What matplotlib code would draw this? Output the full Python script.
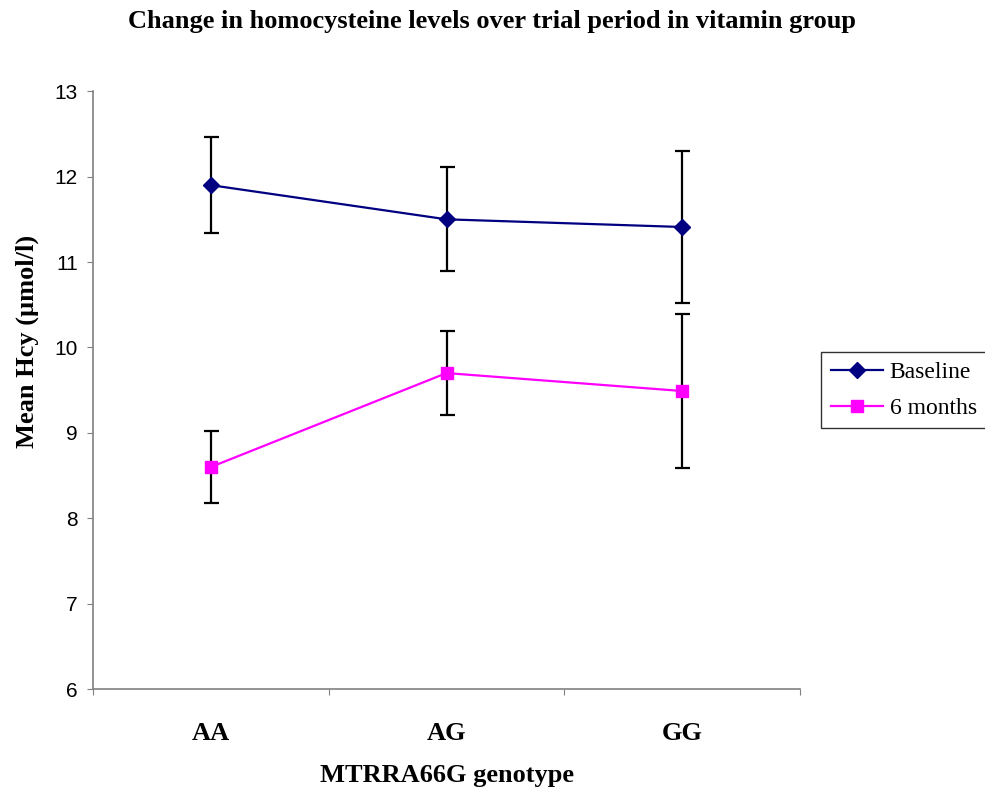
import matplotlib.pyplot as plt

genotypes = ['AA', 'AG', 'GG']
baseline = [11.9, 11.5, 11.41]
baseline_err = [0.56, 0.61, 0.89]
six_months = [8.6, 9.7, 9.49]
six_months_err = [0.42, 0.49, 0.9]

plt.rcParams['font.family'] = ['Liberation Serif', 'DejaVu Serif']

fig = plt.figure(figsize=(9.85, 7.93), dpi=100)
ax = fig.add_axes([0.0944, 0.131, 0.7178, 0.754])

x = [i + 0.5 for i in range(len(genotypes))]

ax.errorbar(x, baseline, yerr=baseline_err, fmt='none', ecolor='black',
            elinewidth=1.6, capsize=5.4, capthick=1.6, zorder=2)
ax.errorbar(x, six_months, yerr=six_months_err, fmt='none', ecolor='black',
            elinewidth=1.6, capsize=5.4, capthick=1.6, zorder=2)
ax.plot(x, baseline, color='#000080', marker='D', markersize=8, linewidth=1.6,
        label='Baseline', zorder=3)
ax.plot(x, six_months, color='#FF00FF', marker='s', markersize=8, linewidth=1.6,
        label='6 months', zorder=3)

ax.set_xlim(0, 3)
ax.set_ylim(6, 13)
ax.set_xticks([0, 1, 2, 3])
ax.set_xticklabels([])
ax.set_xticks(x, minor=True)
ax.set_xticklabels(genotypes, minor=True, fontsize=19, fontweight='bold')
ax.tick_params(axis='x', which='minor', length=0, pad=24)
ax.tick_params(axis='x', which='major', length=4, color='#808080')
ax.set_yticks(range(6, 14))
ax.tick_params(axis='y', length=4, color='#808080', pad=7)
for lbl in ax.get_yticklabels():
    lbl.set_family('Liberation Sans')
    lbl.set_fontsize(15)

for side in ['top', 'right']:
    ax.spines[side].set_visible(False)
for side in ['left', 'bottom']:
    ax.spines[side].set_color('#808080')
    ax.spines[side].set_linewidth(1.2)

ax.set_xlabel('MTRRA66G genotype', fontsize=19, fontweight='bold', labelpad=13)
ax.set_ylabel('Mean Hcy (µmol/l)', fontsize=19, fontweight='bold')
ax.yaxis.set_label_coords(-0.076, 0.582)
fig.suptitle('Change in homocysteine levels over trial period in vitamin group',
             fontsize=19, fontweight='bold', y=0.987)

leg = ax.legend(loc='center left', bbox_to_anchor=(1.02, 0.5), fontsize=17,
                frameon=True, fancybox=False, edgecolor='black',
                borderpad=0.4, handlelength=2.2, handletextpad=0.3,
                labelspacing=0.6, borderaxespad=0.3)
leg.get_frame().set_linewidth(1.0)

fig.savefig('out.png', dpi=100)
